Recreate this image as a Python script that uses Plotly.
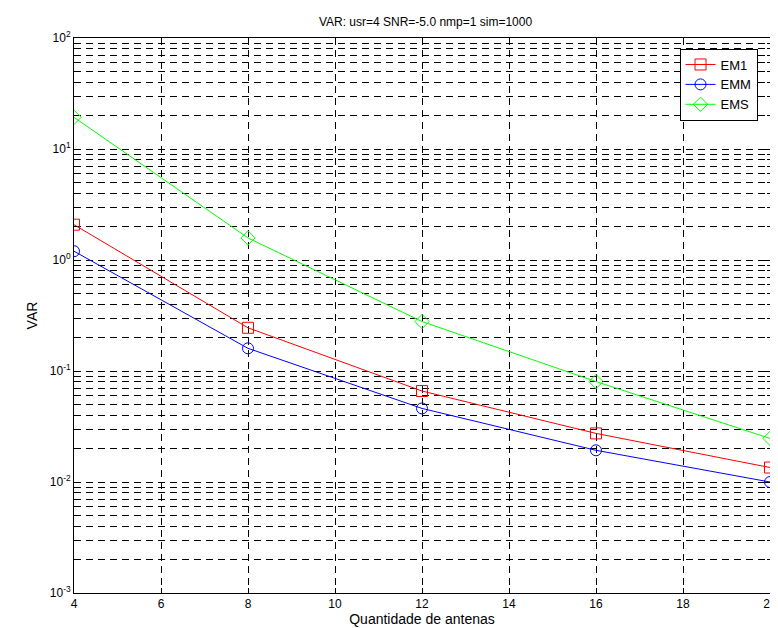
import plotly.graph_objects as go

antenas = [4, 8, 12, 16, 20]
em1 = [2.08, 0.245, 0.066, 0.0274, 0.0135]
emm = [1.2, 0.16, 0.046, 0.0193, 0.0100]
ems = [19.3, 1.58, 0.279, 0.0803, 0.0247]

xticks = [4, 6, 8, 10, 12, 14, 16, 18, 20]
yticks = [1e-3, 1e-2, 1e-1, 1e0, 1e1, 1e2]
ytext = ["10<sup>-3</sup>", "10<sup>-2</sup>", "10<sup>-1</sup>", "10<sup>0</sup>",
         "10<sup>1</sup>", "10<sup>2</sup>"]

FONT = "Liberation Sans, Arial, Helvetica, sans-serif"
fig = go.Figure()
series = [("EM1", em1, "#FF0000", "square-open"),
          ("EMM", emm, "#0000FF", "circle-open"),
          ("EMS", ems, "#00FF00", "diamond-open")]
for name, vals, col, sym in series:
    fig.add_trace(go.Scatter(x=antenas, y=vals, name=name, mode="lines+markers",
                             line=dict(color=col, width=1),
                             marker=dict(symbol=sym, size=11, color=col,
                                         line=dict(color=col, width=1))))

grid = dict(showgrid=True, gridcolor="#000000", gridwidth=1, griddash="7px,5px")
fig.update_layout(
    width=778, height=628,
    margin=dict(l=66, r=9, t=30, b=43),
    paper_bgcolor="white", plot_bgcolor="white",
    font=dict(family=FONT, size=12, color="black"),
    title=dict(text="VAR: usr=4 SNR=-5.0 nmp=1 sim=1000", x=(66 + 769) / 2 / 778,
               xanchor="center", y=1 - 14 / 628, yanchor="middle", yref="container",
               font=dict(size=12)),
    showlegend=True,
    legend=dict(x=0.87, y=0.981, xanchor="left", yanchor="top",
                bgcolor="white", bordercolor="black", borderwidth=1,
                font=dict(size=13), itemwidth=30, tracegroupgap=0),
    xaxis=dict(range=[4, 20], tickvals=xticks, ticks="inside", ticklen=5,
               showline=True, linecolor="black", linewidth=1, mirror="allticks",
               zeroline=False, tickcolor="black",
               title=dict(text="Quantidade de antenas", standoff=0), **grid),
    yaxis=dict(type="log", range=[-3, 2], tickvals=yticks, ticktext=ytext,
               ticks="inside", ticklen=5, tickcolor="black",
               showline=True, linecolor="black", linewidth=1, mirror="allticks",
               zeroline=False, title=dict(text="VAR", standoff=8),
               minor=dict(dtick="D1", ticks="inside", ticklen=3, tickcolor="black",
                          showgrid=True, gridcolor="#000000", gridwidth=1,
                          griddash="7px,5px"),
               **grid),
)
fig.write_html("out.html")
